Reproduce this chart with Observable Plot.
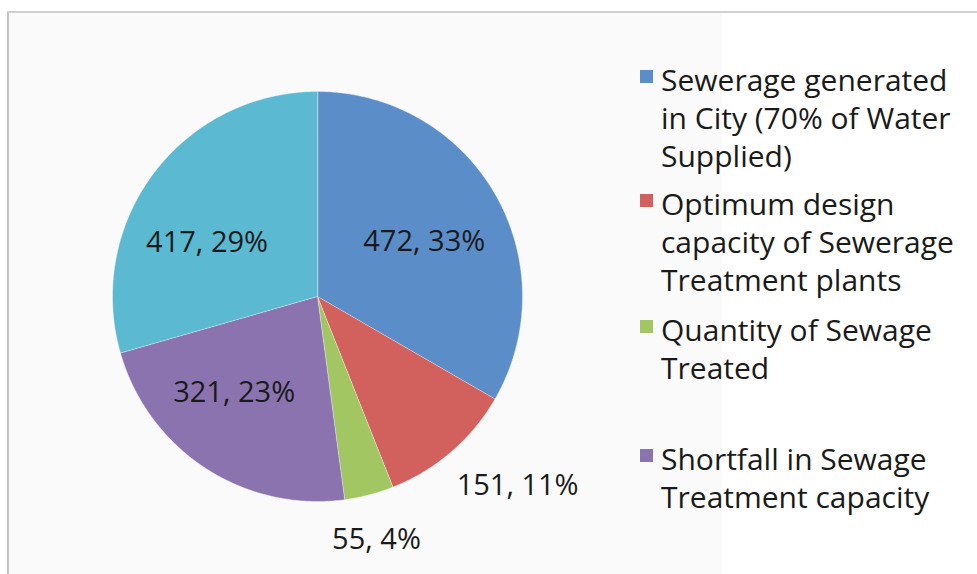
<!DOCTYPE html>
<html>
<head>
<meta charset="utf-8">
<script src="https://cdn.jsdelivr.net/npm/d3@7"></script>
<script src="https://cdn.jsdelivr.net/npm/@observablehq/plot@0.6"></script>
<style>
  html, body { margin: 0; padding: 0; background: #fff; }
  #wrap { position: relative; width: 977px; height: 574px; overflow: hidden; background: #fff; font-family: "Open Sans", sans-serif; }
  #panel { position: absolute; left: 7px; top: 12px; width: 713px; height: 570px; background: #fafafa; border-left: 2px solid #c4c4c4; }
  #topline { position: absolute; left: 7px; top: 11px; width: 970px; height: 0; border-top: 2px solid #d0d0d0; }
  #chart { position: absolute; left: 0; top: 0; }
  #legend { position: absolute; left: 640px; top: 0; color: #1a1a1a; font-size: 30px; line-height: 38px; }
  .item { position: absolute; left: 0; width: 330px; padding-left: 21px; white-space: nowrap; }
  .sw { position: absolute; left: 0; top: 9px; width: 13px; height: 13px; }
</style>
</head>
<body>
<div id="wrap">
  <div id="panel"></div>
  <div id="topline"></div>
  <div id="chart"></div>
  <div id="legend"></div>
</div>
<script>
// ---- data ----
const categories = [
  "Sewerage generated in City (70% of Water Supplied)",
  "Optimum design capacity of Sewerage Treatment plants",
  "Quantity of Sewage Treated",
  "Shortfall in Sewage Treatment capacity",
  "Untreated (not in legend)"
];
const values = [472, 151, 55, 321, 417];
const colors = ["#5b8dc9", "#d2605c", "#a2c662", "#8b73b0", "#5bb9d2"];
const legendLines = [
  ["Sewerage generated", "in City (70% of Water", "Supplied)"],
  ["Optimum design", "capacity of Sewerage", "Treatment plants"],
  ["Quantity of Sewage", "Treated"],
  ["Shortfall in Sewage", "Treatment capacity"]
];

// ---- layout ----
const W = 977, H = 574;
const cx = 317, cy = 296, R = 205;

const total = d3.sum(values);
const arcs = d3.pie().sort(null).value(d => d.value)(
  categories.map((c, i) => ({category: c, value: values[i]}))
);

// slice outlines as closed polygons (center + arc points)
const slicePts = [];
arcs.forEach(a => {
  const n = Math.max(8, Math.ceil((a.endAngle - a.startAngle) / 0.01));
  slicePts.push({category: a.data.category, x: 0, y: 0});
  for (let k = 0; k <= n; k++) {
    const t = a.startAngle + (a.endAngle - a.startAngle) * k / n;
    slicePts.push({category: a.data.category, x: Math.sin(t), y: Math.cos(t)});
  }
});

// label placement (Excel "best fit"-like): radial factor and angle nudge per slice
const labelRadius = [0.585, 1.345, 1.22, 0.62, 0.6];
const labelNudge = [0.05, -0.1, 0.017, 0.136, -0.19];
const labels = arcs.map((a, i) => {
  const share = a.data.value / total;
  const t = (a.startAngle + a.endAngle) / 2 + labelNudge[i];
  const rr = labelRadius[i];
  return {
    x: rr * Math.sin(t),
    y: rr * Math.cos(t),
    text: `${a.data.value}, ${Math.round(share * 100)}%`
  };
});

const plot = Plot.plot({
  width: W,
  height: H,
  margin: 0,
  style: {background: "transparent", fontFamily: "'Open Sans', sans-serif"},
  x: {domain: [-cx / R, (W - cx) / R], axis: null},
  y: {domain: [-(H - cy) / R, cy / R], axis: null},
  color: {domain: categories, range: colors},
  marks: [
    Plot.line(slicePts, {x: "x", y: "y", z: "category", fill: "category", stroke: "#ffffff", strokeWidth: 0.6, strokeOpacity: 0.6, curve: "linear-closed"}),
    Plot.text(labels, {x: "x", y: "y", text: "text", fontSize: 29, fill: "#1a1a1a"})
  ]
});
document.getElementById("chart").appendChild(plot);

// ---- legend (HTML) ----
const legendTops = [61, 185, 311, 440];
const leg = document.getElementById("legend");
legendLines.forEach((lines, i) => {
  const item = document.createElement("div");
  item.className = "item";
  item.style.top = legendTops[i] + "px";
  const sw = document.createElement("div");
  sw.className = "sw";
  sw.style.background = colors[i];
  item.appendChild(sw);
  lines.forEach(l => {
    const d = document.createElement("div");
    d.textContent = l;
    item.appendChild(d);
  });
  leg.appendChild(item);
});
</script>
</body>
</html>
